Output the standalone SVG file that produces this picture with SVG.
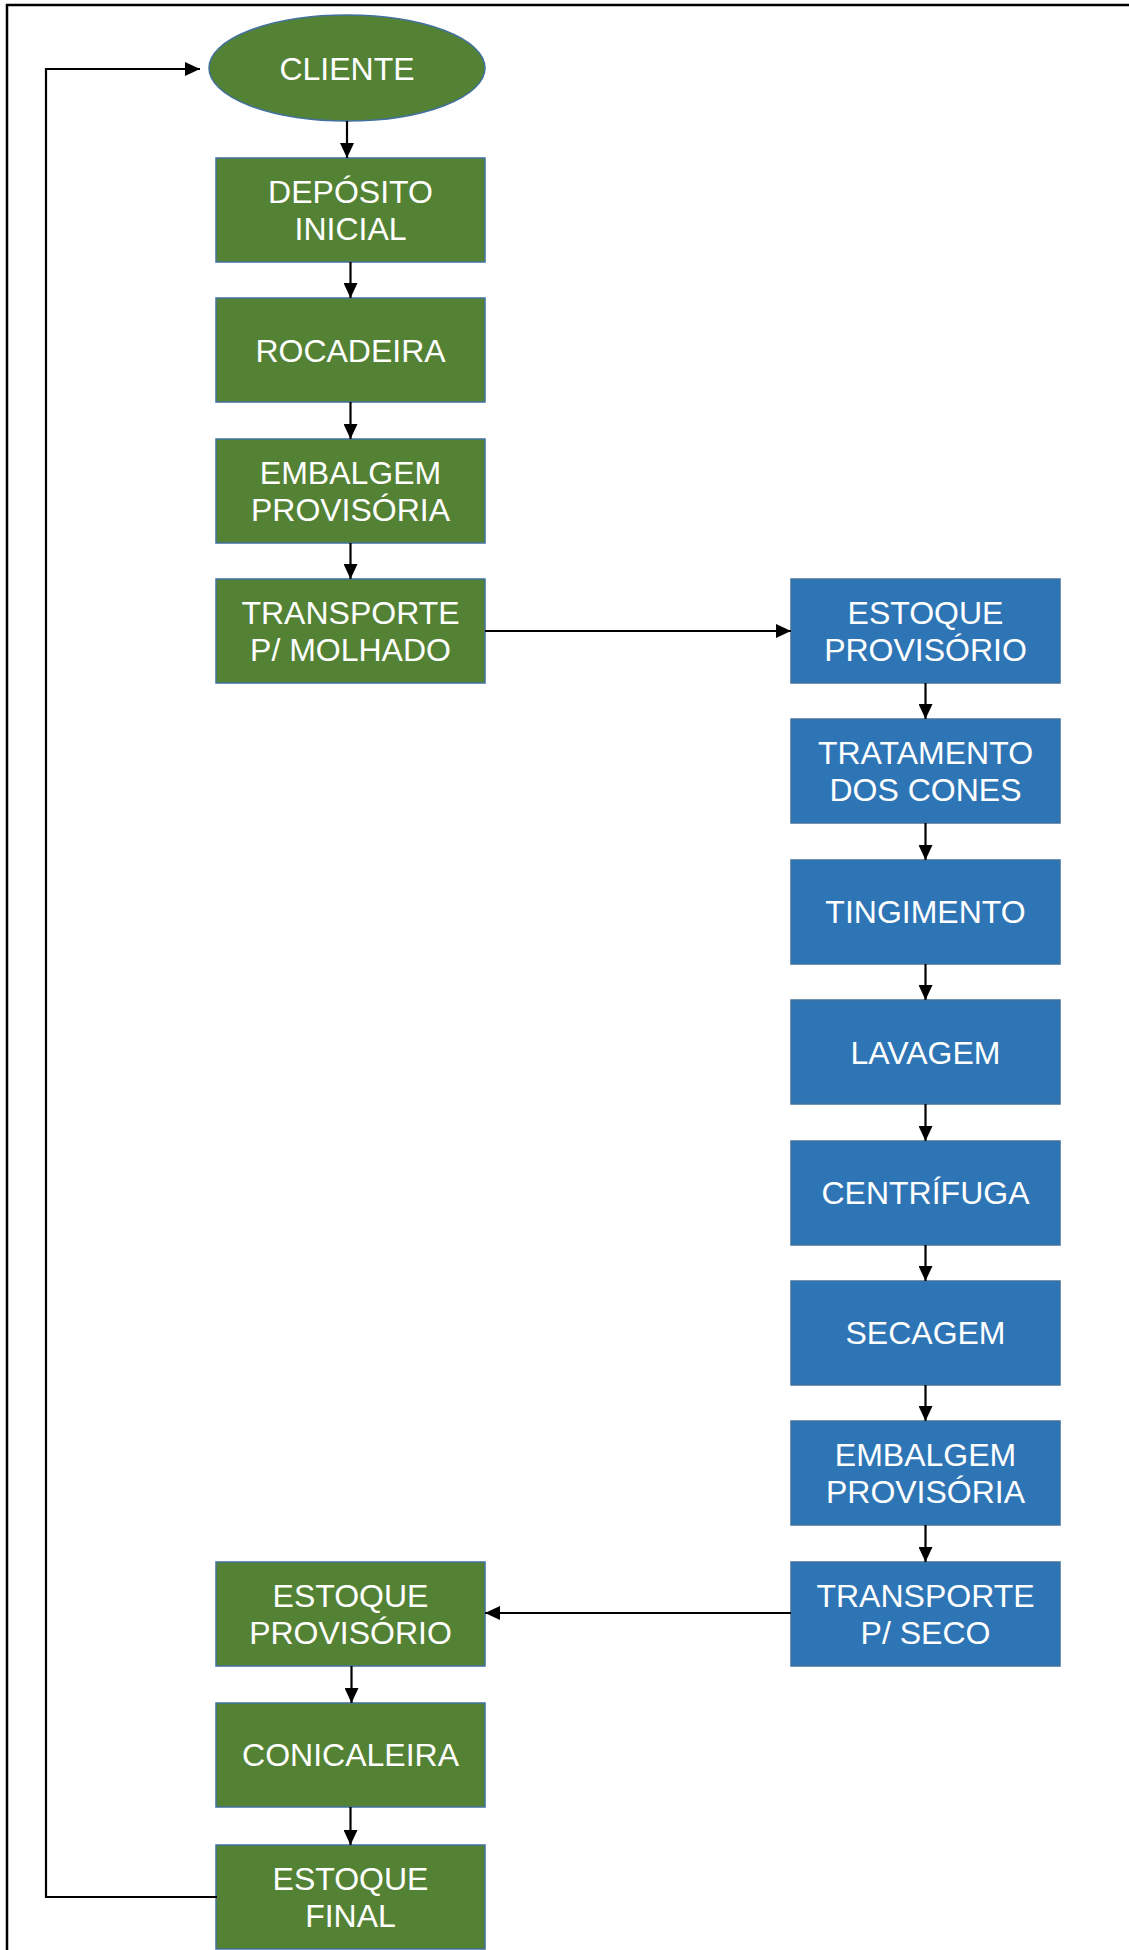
<svg xmlns="http://www.w3.org/2000/svg" width="1129" height="1950" viewBox="0 0 1129 1950">
<defs>
<style>
.g{fill:#548235;stroke:#41719C;stroke-width:1.5}
.b{fill:#2E75B6;stroke:#41719C;stroke-width:1.5}
.t{font-family:"Liberation Sans",Arial,sans-serif;font-size:32px;fill:#FFFFFF;text-anchor:middle}
.c{fill:none;stroke:#000000;stroke-width:2.2}
</style>
<marker id="ah" markerWidth="15" markerHeight="14" refX="15" refY="7" orient="auto" markerUnits="userSpaceOnUse">
<path d="M0,0 L15,7 L0,14 Z" fill="#000000"/>
</marker>
</defs>
<rect x="0" y="0" width="1129" height="1950" fill="#FFFFFF"/>
<path d="M7,1950 L7,5 L1129,5" fill="none" stroke="#000000" stroke-width="2.5"/>

<g id="n-cliente"><ellipse class="g" cx="347" cy="68" rx="138" ry="53"/><text class="t" x="347" y="80">CLIENTE</text></g>
<g id="n-deposito"><rect class="g" x="216" y="158" width="269" height="104"/><text class="t" x="350.5" y="203">DEPÓSITO</text><text class="t" x="350.5" y="240">INICIAL</text></g>
<g id="n-rocadeira"><rect class="g" x="216" y="298" width="269" height="104"/><text class="t" x="350.5" y="362">ROCADEIRA</text></g>
<g id="n-embalagem1"><rect class="g" x="216" y="439" width="269" height="104"/><text class="t" x="350.5" y="484">EMBALGEM</text><text class="t" x="350.5" y="521">PROVISÓRIA</text></g>
<g id="n-transp-molhado"><rect class="g" x="216" y="579" width="269" height="104"/><text class="t" x="350.5" y="624">TRANSPORTE</text><text class="t" x="350.5" y="661">P/ MOLHADO</text></g>

<g id="n-estoque-prov1"><rect class="b" x="791" y="579" width="269" height="104"/><text class="t" x="925.5" y="624">ESTOQUE</text><text class="t" x="925.5" y="661">PROVISÓRIO</text></g>
<g id="n-tratamento"><rect class="b" x="791" y="719" width="269" height="104"/><text class="t" x="925.5" y="764">TRATAMENTO</text><text class="t" x="925.5" y="801">DOS CONES</text></g>
<g id="n-tingimento"><rect class="b" x="791" y="860" width="269" height="104"/><text class="t" x="925.5" y="923">TINGIMENTO</text></g>
<g id="n-lavagem"><rect class="b" x="791" y="1000" width="269" height="104"/><text class="t" x="925.5" y="1064">LAVAGEM</text></g>
<g id="n-centrifuga"><rect class="b" x="791" y="1141" width="269" height="104"/><text class="t" x="925.5" y="1204">CENTRÍFUGA</text></g>
<g id="n-secagem"><rect class="b" x="791" y="1281" width="269" height="104"/><text class="t" x="925.5" y="1344">SECAGEM</text></g>
<g id="n-embalagem2"><rect class="b" x="791" y="1421" width="269" height="104"/><text class="t" x="925.5" y="1466">EMBALGEM</text><text class="t" x="925.5" y="1503">PROVISÓRIA</text></g>
<g id="n-transp-seco"><rect class="b" x="791" y="1562" width="269" height="104"/><text class="t" x="925.5" y="1607">TRANSPORTE</text><text class="t" x="925.5" y="1644">P/ SECO</text></g>

<g id="n-estoque-prov2"><rect class="g" x="216" y="1562" width="269" height="104"/><text class="t" x="350.5" y="1607">ESTOQUE</text><text class="t" x="350.5" y="1644">PROVISÓRIO</text></g>
<g id="n-conicaleira"><rect class="g" x="216" y="1703" width="269" height="104"/><text class="t" x="350.5" y="1766">CONICALEIRA</text></g>
<g id="n-estoque-final"><rect class="g" x="216" y="1845" width="269" height="104"/><text class="t" x="350.5" y="1890">ESTOQUE</text><text class="t" x="350.5" y="1927">FINAL</text></g>

<g id="connectors">
<path class="c" d="M347,121 L347,158" marker-end="url(#ah)"/>
<path class="c" d="M350.5,262 L350.5,298" marker-end="url(#ah)"/>
<path class="c" d="M350.5,402 L350.5,439" marker-end="url(#ah)"/>
<path class="c" d="M350.5,543 L350.5,579" marker-end="url(#ah)"/>
<path class="c" d="M485,631 L791,631" marker-end="url(#ah)"/>
<path class="c" d="M925.5,683 L925.5,719" marker-end="url(#ah)"/>
<path class="c" d="M925.5,823 L925.5,860" marker-end="url(#ah)"/>
<path class="c" d="M925.5,964 L925.5,1000" marker-end="url(#ah)"/>
<path class="c" d="M925.5,1104 L925.5,1141" marker-end="url(#ah)"/>
<path class="c" d="M925.5,1245 L925.5,1281" marker-end="url(#ah)"/>
<path class="c" d="M925.5,1385 L925.5,1421" marker-end="url(#ah)"/>
<path class="c" d="M925.5,1525 L925.5,1562" marker-end="url(#ah)"/>
<path class="c" d="M791,1613 L485,1613" marker-end="url(#ah)"/>
<path class="c" d="M351.5,1666 L351.5,1703" marker-end="url(#ah)"/>
<path class="c" d="M350.5,1807 L350.5,1845" marker-end="url(#ah)"/>
<path class="c" d="M217,1897 L46,1897 L46,69 L200,69" marker-end="url(#ah)"/>
</g>
</svg>
